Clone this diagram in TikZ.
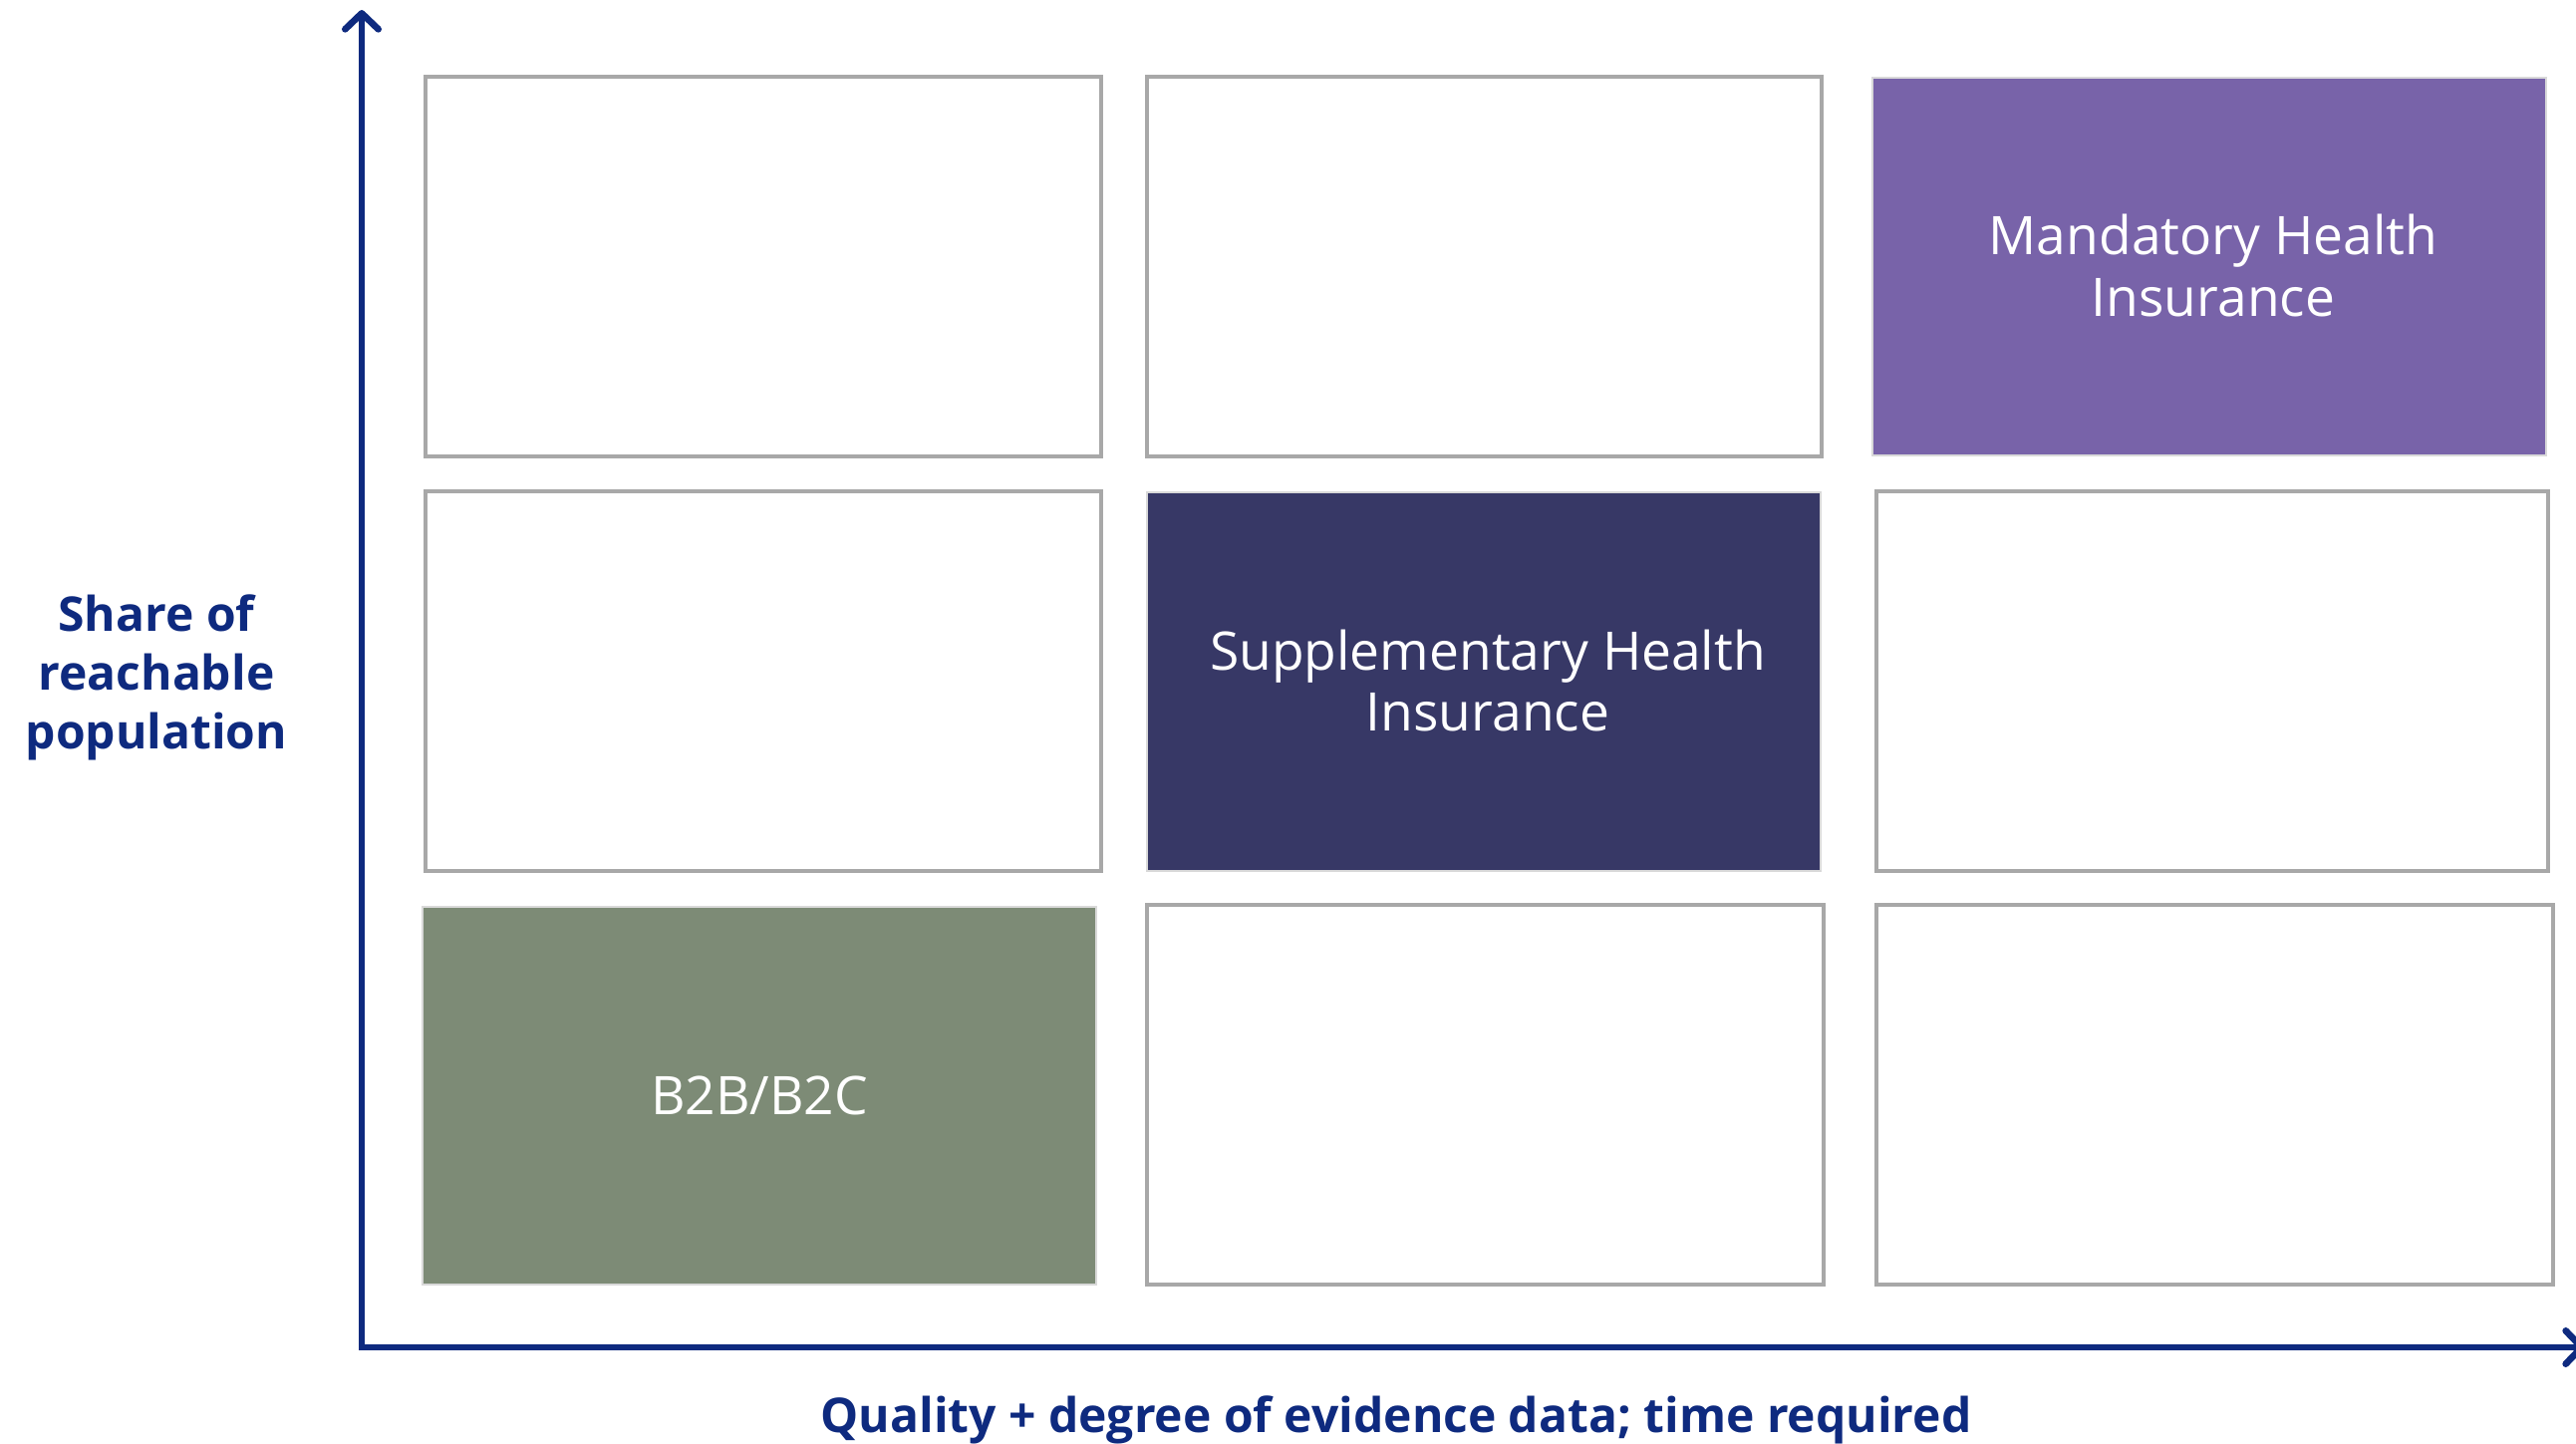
\documentclass[tikz,border=0pt]{standalone}
\usepackage{fontspec}
\setmainfont{Open Sans}
\usetikzlibrary{arrows.meta,fit}
\definecolor{axisblue}{HTML}{0E2A7F}
\definecolor{cellgray}{HTML}{A8A8A8}
\definecolor{mhipurple}{HTML}{7863A9}
\definecolor{shinavy}{HTML}{373866}
\definecolor{bgreen}{HTML}{7D8B76}
\begin{document}
\begin{tikzpicture}[x=0.75pt,y=-0.75pt,
  cell/.style={draw=cellgray, line width=2.6pt, fill=white, inner sep=0pt},
  filled/.style={fill=#1, draw=black!15, line width=0.8pt, inner sep=0pt},
  boxtext/.style={text=white, align=center, inner sep=0pt, font=\fontsize{40}{46}\selectfont},
  axis/.style={draw=axisblue, line width=5pt, line join=miter,
    {Straight Barb[length=12pt,width=25pt,line cap=round,line join=round]}-{Straight Barb[length=12pt,width=25pt,line cap=round,line join=round]}},
  axlabel/.style={text=axisblue, font=\fontsize{36}{44}\selectfont\bfseries, align=center}]
\useasboundingbox (0,0) rectangle (2585,1449);

% top row
\node[cell, fit={(427,77) (1105,458)}] (A) {};
\node[cell, fit={(1151,77) (1828,458)}] (B) {};
\node[filled=mhipurple, fit={(1879,78) (2555,457)}] (C) {};
% middle row
\node[cell, fit={(427,493) (1105,874)}] (D) {};
\node[filled=shinavy, fit={(1151,494) (1827,874)}] (E) {};
\node[cell, fit={(1883,493) (2557,874)}] (F) {};
% bottom row
\node[filled=bgreen, fit={(424,910) (1100,1289)}] (G) {};
\node[cell, fit={(1151,908) (1830,1289)}] (H) {};
\node[cell, fit={(1883,908) (2562,1289)}] (I) {};

% texts inside the coloured boxes
\node[boxtext] (Ctext) at ([shift={(4,-1)}]C.center) {Mandatory Health\\Insurance};
\node[boxtext] (Etext) at ([shift={(4,-1)}]E.center) {Supplementary Health\\Insurance};
\node[boxtext] (Gtext) at ([shift={(0,0)}]G.center) {B2B/B2C};

% axes
\coordinate (O) at (363,1352);
\coordinate (ytip) at (363,10);
\coordinate (xtip) at (2594,1352);
\draw[axis] (ytip) -- (O) -- (xtip);

% labels
\node[axlabel] (ylab) at (157,680) {Share of\\reachable\\population};
\node[axlabel] (xlab) at (1401,1425) {Quality + degree of evidence data; time required};
\end{tikzpicture}
\end{document}
